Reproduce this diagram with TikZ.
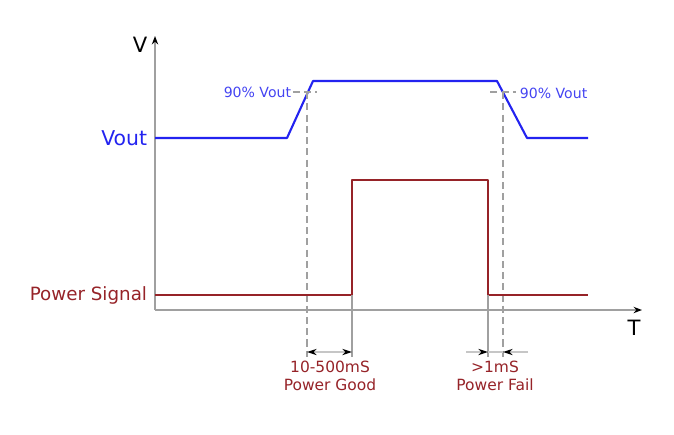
\documentclass[tikz,border=0pt]{standalone}
\usepackage{fontspec}
\setmainfont{DejaVu Sans}
\usepackage{xcolor}
\usetikzlibrary{arrows.meta,positioning}
\definecolor{psublue}{RGB}{35,35,240}
\definecolor{psured}{RGB}{150,35,40}
\definecolor{psugray}{RGB}{160,160,160}

\begin{document}
\begin{tikzpicture}[
    x=0.025cm, y=-0.025cm,
    axis/.style={psugray, line width=1.3pt, -{Stealth[length=6pt,width=4.5pt,black]}},
    vout/.style={psublue, line width=1.5pt, line join=round},
    sig/.style={psured, line width=1.5pt, line join=round},
    guide/.style={psugray, line width=1pt, dash pattern=on 5pt off 3pt},
    edge/.style={psugray, line width=0.9pt},
    dim/.style={psugray!60, line width=0.8pt},
    dimtip/.style={-{Stealth[length=7pt,width=4.5pt,black]}, psugray!60, line width=0.8pt},
    bluelbl/.style={psublue!85, font=\fontsize{10}{12}\selectfont},
    redlbl/.style={psured, align=center, font=\fontsize{11}{12.5}\selectfont}
]
    \useasboundingbox (0,0) rectangle (674,434);

    % Axes
    \coordinate (origin) at (155,310);
    \coordinate (ytop) at (155,36);
    \coordinate (xend) at (642,310);
    \draw[axis] (origin) -- (ytop);
    \draw[axis] (origin) -- (xend);
    \node[font=\fontsize{15}{15}\selectfont] (vlbl) at (140,45) {V};
    \node[font=\fontsize{15}{15}\selectfont] (tlbl) at (634,328) {T};

    % Vout trace
    \coordinate (v0) at (155,138);
    \coordinate (v1) at (287,138);
    \coordinate (v2) at (313,81);
    \coordinate (v3) at (497,81);
    \coordinate (v4) at (527,138);
    \coordinate (v5) at (588,138);
    \draw[vout] (v0) -- (v1) -- (v2) -- (v3) -- (v4) -- (v5);
    \node[psublue, anchor=east, font=\fontsize{14.5}{15}\selectfont] (voutlbl) at (152,138) {Vout};

    % 90% markers
    \coordinate (upnine) at (307,92);
    \coordinate (dnnine) at (503,92);
    \node[bluelbl, anchor=east] (uplbl) at (296,92) {90\% Vout};
    \node[bluelbl, anchor=west] (dnlbl) at (515,93) {90\% Vout};
    \draw[guide] ([xshift=-10]upnine) -- ([xshift=7]upnine);
    \draw[guide] ([xshift=-9]dnnine) -- ([xshift=9]dnnine);
    \coordinate (upfoot) at (307,357);
    \coordinate (dnfoot) at (503,357);
    \draw[guide] (upnine) -- (upfoot);
    \draw[guide] (dnnine) -- (dnfoot);

    % Power signal trace
    \coordinate (s0) at (155,295);
    \coordinate (s1) at (352,295);
    \coordinate (s2) at (352,180);
    \coordinate (s3) at (488,180);
    \coordinate (s4) at (488,295);
    \coordinate (s5) at (588,295);
    \draw[sig] (s0) -- (s1) -- (s2) -- (s3) -- (s4) -- (s5);
    \node[psured, anchor=east, font=\fontsize{13}{14}\selectfont] (siglbl) at (152,295) {Power Signal};

    % Edge markers
    \coordinate (riseft) at (352,357);
    \coordinate (fallft) at (488,357);
    \draw[edge] (s1) -- (riseft);
    \draw[edge] (s4) -- (fallft);

    % Power good span
    \coordinate (pgl) at (307,352);
    \coordinate (pgr) at (352,352);
    \coordinate (pgm) at (329.5,352);
    \draw[dimtip] (pgm) -- (pgl);
    \draw[dimtip] (pgm) -- (pgr);
    \node[redlbl] (pglbl) at (330,376) {10-500mS\\Power Good};

    % Power fail span
    \coordinate (pfl) at (466,352);
    \coordinate (pfr) at (528,352);
    \draw[dimtip] (pfl) -- (fallft |- pfl);
    \draw[dimtip] (pfr) -- (dnfoot |- pfr);
    \draw[dim] (fallft |- pfl) -- (dnfoot |- pfr);
    \node[redlbl] (pflbl) at (495,376) {>1mS\\Power Fail};
\end{tikzpicture}
\end{document}
